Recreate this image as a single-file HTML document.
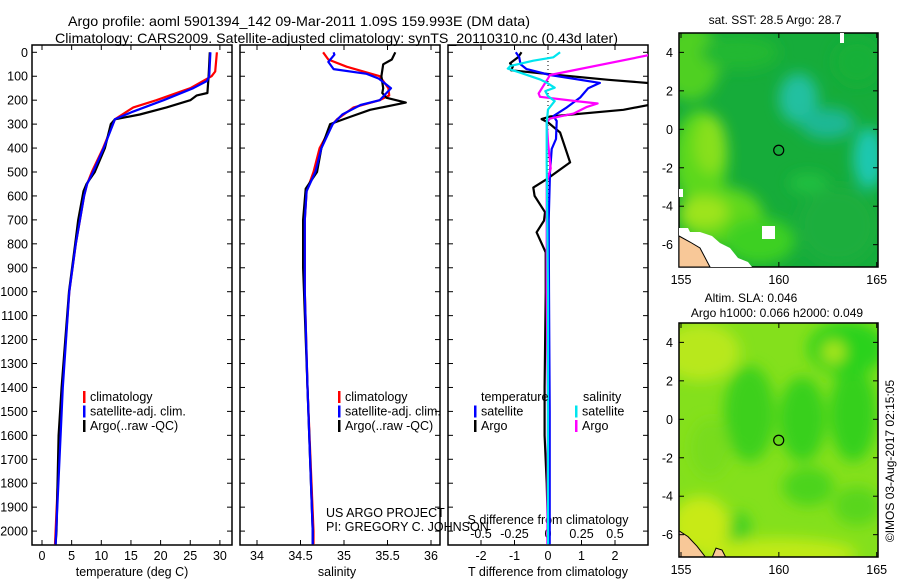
<!DOCTYPE html>
<html><head><meta charset="utf-8"><style>
html,body{margin:0;padding:0;background:#fff;}
svg{display:block;font-family:"Liberation Sans",sans-serif;}
</style></head><body>
<svg id="chart" width="900" height="580" viewBox="0 0 900 580" xmlns="http://www.w3.org/2000/svg">
<defs>
<clipPath id="c1"><rect x="32" y="45" width="200" height="500"/></clipPath>
<clipPath id="c2"><rect x="240" y="45" width="200" height="500"/></clipPath>
<clipPath id="c3"><rect x="448" y="45" width="200" height="500"/></clipPath>
<clipPath id="cm1"><rect x="679" y="33" width="199" height="234"/></clipPath>
<clipPath id="cm2"><rect x="679" y="323" width="199" height="234"/></clipPath>
<filter id="bl" x="-50%" y="-50%" width="200%" height="200%"><feGaussianBlur stdDeviation="7"/></filter>
</defs>
<text x="68" y="26" font-size="14" textLength="462" lengthAdjust="spacingAndGlyphs">Argo profile: aoml 5901394_142 09-Mar-2011 1.09S 159.993E (DM data)</text>
<text x="55" y="43" font-size="14" textLength="563" lengthAdjust="spacingAndGlyphs">Climatology: CARS2009. Satellite-adjusted climatology: synTS_20110310.nc (0.43d later)</text>
<g id="plots"></g>
</svg>
<script>
// ---- data ----
const depthTickLabels=[0,100,200,300,400,500,600,700,800,900,1000,1100,1200,1300,1400,1500,1600,1700,1800,1900,2000];
const tempTicks=[0,5,10,15,20,25,30];
const salTicks=[34,34.5,35,35.5,36];
const salTickLabels=["34","34.5","35","35.5","36"];
const tdiffTicks=[-2,-1,0,1,2];
const sdiffTicks=[-0.5,-0.25,0,0.25,0.5];

const tClimDepth=[0,80,100,150,200,230,280,400,500,550,600,800,1000,1400,2000,2055];
const tClim=[29.5,29.2,28.6,25,19.3,15.4,12.3,10.3,8.4,7.6,7.1,5.7,4.6,3.4,2.3,2.2];
const tSatDepth=[0,100,120,150,200,250,280,400,500,550,600,800,1000,1400,2000,2055];
const tSat=[28.4,28.2,27.8,25.5,20.5,15.1,12.3,10.4,8.6,7.6,7.1,5.7,4.6,3.5,2.4,2.3];
const tArgoDepth=[0,100,170,180,200,230,260,280,300,400,500,550,580,700,800,1000,1400,1600,2000,2055];
const tArgo=[28.3,28.1,27.9,26.1,25,21,16.5,12.3,11.6,10.6,8.9,7.5,7.0,6.1,5.6,4.55,3.3,2.8,2.45,2.3];

const sClimDepth=[0,30,60,100,150,180,200,230,280,300,400,500,580,700,1000,1400,2000,2055];
const sClim=[34.76,34.82,35.03,35.41,35.51,35.52,35.41,35.11,34.92,34.87,34.72,34.65,34.57,34.55,34.55,34.58,34.65,34.65];
const sSatDepth=[0,10,40,70,90,110,150,200,220,260,300,400,500,580,700,1000,1400,2000,2055];
const sSat=[34.88,34.89,34.82,34.88,35.26,35.40,35.54,35.41,35.19,34.98,34.87,34.74,34.67,34.57,34.55,34.55,34.58,34.64,34.64];
const sArgoDepth=[0,30,50,100,150,170,190,210,240,270,300,400,500,570,700,900,1000,1400,2000,2055];
const sArgo=[35.59,35.55,35.45,35.43,35.45,35.44,35.49,35.71,35.30,35.07,34.84,34.74,34.69,34.56,34.53,34.53,34.54,34.58,34.64,34.64];

const dTSatDepth=[0,20,50,70,95,128,150,189,230,266,287,362,404,501,700,1000,1500,2055];
const dTSat=[-0.96,-0.86,-0.82,-0.64,0.06,1.55,1.2,0.96,0.56,0.16,0.26,0.24,0.11,0.06,0.02,0.03,0.05,0.05];
const dTArgoDepth=[0,20,46,60,75,95,115,135,200,220,240,268,279,293,335,460,530,565,600,668,703,752,836,1003,1400,1600,1800,2000,2055];
const dTArgo=[-0.79,-0.89,-1.13,-1.05,-1.1,0.3,1.8,3.6,4,3.0,2.25,0.06,-0.19,0.0,0.36,0.66,-0.04,-0.44,-0.40,-0.09,-0.12,-0.34,-0.07,-0.07,-0.1,-0.1,-0.04,0,0];
const dSSatDepth=[0,21,35,57,68,85,113,127,148,162,183,204,239,295,462,1000,1500,2055];
const dSSat=[0.09,0.04,-0.11,-0.28,-0.30,-0.21,-0.06,-0.01,0.05,-0.02,0.0,0.05,0.0,-0.01,-0.01,0.0,0.0,0.0];
const dSArgoDepth=[0,12,95,109,172,186,204,214,228,256,277,291,374,485,541,1000,1500,2055];
const dSArgo=[0.85,0.75,0.015,0.0,-0.07,-0.06,0.21,0.37,0.29,0.19,0.015,-0.01,0.0,0.02,-0.01,-0.01,0.0,-0.005];

// ---- scales ----
const yD=d=>52.3+d*0.2394;
const xT=t=>42+t*5.93;
const xS=s=>257+(s-34)*87;
const xDT=v=>548+v*33.5;
const xDS=v=>548+v*134;

const NS="http://www.w3.org/2000/svg";
const root=document.getElementById('plots');
function mk(tag,attrs,parent){const e=document.createElementNS(NS,tag);for(const k in attrs)e.setAttribute(k,attrs[k]);(parent||root).appendChild(e);return e;}
function txt(x,y,s,size,anchor,name,parent){const e=mk('text',{x:x,y:y,'font-size':size,'text-anchor':anchor||'start'},parent);e.textContent=s;return e;}
function line(depths,vals,xf,color,clip,name,w){
  let p='';for(let i=0;i<depths.length;i++){p+=(i?'L':'M')+xf(vals[i]).toFixed(1)+' '+yD(depths[i]).toFixed(1);}
  const e=mk('path',{d:p,fill:'none',stroke:color,'stroke-width':w||2.2,'clip-path':'url(#'+clip+')','stroke-linejoin':'round'});
  
  
  return e;
}

// panel frames and ticks
const panels=[{x:32,clip:'c1',name:'temperature-panel'},{x:240,clip:'c2',name:'salinity-panel'},{x:448,clip:'c3',name:'difference-panel'}];
panels.forEach(p=>{
  const g=mk('g',{});
  
  
  mk('rect',{x:p.x,y:45,width:200,height:500,fill:'none',stroke:'#000','stroke-width':1.5},g);
  depthTickLabels.forEach(d=>{
    mk('line',{x1:p.x,x2:p.x+5,y1:yD(d),y2:yD(d),stroke:'#000'},g);
    mk('line',{x1:p.x+195,x2:p.x+200,y1:yD(d),y2:yD(d),stroke:'#000'},g);
  });
});
depthTickLabels.forEach(d=>{txt(28,yD(d)+4.5,String(d),12.5,'end','depth-tick-label');});

// temperature axis
tempTicks.forEach(t=>{mk('line',{x1:xT(t),x2:xT(t),y1:45,y2:50,stroke:'#000'});mk('line',{x1:xT(t),x2:xT(t),y1:540,y2:545,stroke:'#000'});txt(xT(t),560,String(t),12.5,'middle','temperature-tick-label');});
txt(132,576,'temperature (deg C)',12.5,'middle','x-axis-title-temperature');
salTicks.forEach((s,i)=>{mk('line',{x1:xS(s),x2:xS(s),y1:45,y2:50,stroke:'#000'});mk('line',{x1:xS(s),x2:xS(s),y1:540,y2:545,stroke:'#000'});txt(xS(s),560,salTickLabels[i],12.5,'middle','salinity-tick-label');});
txt(337,576,'salinity',12.5,'middle','x-axis-title-salinity');
tdiffTicks.forEach(t=>{mk('line',{x1:xDT(t),x2:xDT(t),y1:45,y2:50,stroke:'#000'});mk('line',{x1:xDT(t),x2:xDT(t),y1:540,y2:545,stroke:'#000'});txt(xDT(t),560,String(t),12.5,'middle','tdiff-tick-label');});
txt(548,576,'T difference from climatology',12.5,'middle','x-axis-title-tdiff');
sdiffTicks.forEach(s=>{txt(xDS(s),538,String(s),12.5,'middle','sdiff-tick-label');});
txt(548,524,'S difference from climatology',12.5,'middle','sdiff-axis-title');
// zero dotted line
mk('line',{x1:548,x2:548,y1:45,y2:545,stroke:'#000','stroke-dasharray':'1,3'});

// series
line(tClimDepth,tClim,xT,'#ff0000','c1','temp-climatology-line');
line(tArgoDepth,tArgo,xT,'#000000','c1','temp-argo-line');
line(tSatDepth,tSat,xT,'#0000ff','c1','temp-satellite-line');
line(sClimDepth,sClim,xS,'#ff0000','c2','sal-climatology-line');
line(sArgoDepth,sArgo,xS,'#000000','c2','sal-argo-line');
line(sSatDepth,sSat,xS,'#0000ff','c2','sal-satellite-line');
line(dTArgoDepth,dTArgo,xDT,'#000000','c3','tdiff-argo-line');
line(dTSatDepth,dTSat,xDT,'#0000ff','c3','tdiff-satellite-line');
line(dSArgoDepth,dSArgo,xDS,'#ff00ff','c3','sdiff-argo-line');
line(dSSatDepth,dSSat,xDS,'#00e5ee','c3','sdiff-satellite-line');

// legends
function legend(x,y,color,label,name){
  const g=mk('g',{});
  
  
  mk('rect',{x:x,y:y-10,width:2.5,height:12,fill:color},g);
  txt(x+7,y,label,12.5,'start','legend-label',g);
}
[['#ff0000','climatology'],['#0000ff','satellite-adj. clim.'],['#000000','Argo(..raw -QC)']].forEach((l,i)=>{
  legend(83,401+i*14.5,l[0],l[1],'temp-legend-entry');
  legend(338,401+i*14.5,l[0],l[1],'sal-legend-entry');
});
txt(481,401,'temperature',12.5,'start','legend-heading-temperature');
txt(583,401,'salinity',12.5,'start','legend-heading-salinity');
legend(474,415.5,'#0000ff','satellite','tdiff-legend-satellite');
legend(474,430,'#000000','Argo','tdiff-legend-argo');
legend(575,415.5,'#00e5ee','satellite','sdiff-legend-satellite');
legend(575,430,'#ff00ff','Argo','sdiff-legend-argo');
txt(326,517,'US ARGO PROJECT',12.5,'start','project-credit');
txt(326,531,'PI: GREGORY C. JOHNSON',12.5,'start','pi-credit');

// ---- maps ----
const lonX=l=>681+(l-155)*19.57;
function drawMap(y0,clip,base,blobs,name,title1,title2){
  const g=mk('g',{'clip-path':'url(#'+clip+')'});
  
  
  const latY=a=>y0+129.3-19.23*a;
  mk('rect',{x:679,y:y0+33,width:199,height:234,fill:base},g);
  const fb=mk('g',{filter:'url(#bl)'},g);
  blobs.forEach(b=>{mk('ellipse',{cx:lonX(b[0]),cy:latY(b[1]),rx:b[2]*19.57,ry:b[3]*19.23,fill:b[4]},fb);});
  // land
  mk('path',{d:`M679 ${latY(-5.8)} L688 ${latY(-6.1)} L697 ${latY(-6.6)} L706 ${latY(-7.2)} L679 ${latY(-7.2)} Z`,fill:'#f8c898',stroke:'#000','stroke-width':1},g);
  mk('path',{d:`M712 ${latY(-7.2)} L716 ${latY(-6.7)} L722 ${latY(-6.8)} L726 ${latY(-7.2)} Z`,fill:'#f8c898',stroke:'#000','stroke-width':1},g);
  const fr=mk('rect',{x:679,y:y0+33,width:199,height:234,fill:'none',stroke:'#000','stroke-width':1.5});
  
  
  mk('circle',{cx:lonX(159.993),cy:latY(-1.09),r:5,fill:'none',stroke:'#000','stroke-width':1.2});
  [155,160,165].forEach(l=>{mk('line',{x1:lonX(l),x2:lonX(l),y1:y0+33,y2:y0+38,stroke:'#000'});mk('line',{x1:lonX(l),x2:lonX(l),y1:y0+262,y2:y0+267,stroke:'#000'});txt(lonX(l),y0+284,String(l),12.5,'middle','lon-tick-label');});
  [4,2,0,-2,-4,-6].forEach(a=>{mk('line',{x1:679,x2:684,y1:latY(a),y2:latY(a),stroke:'#000'});mk('line',{x1:873,x2:878,y1:latY(a),y2:latY(a),stroke:'#000'});txt(673,latY(a)+4.5,String(a),12.5,'end','lat-tick-label');});
}
drawMap(0,'cm1','#16ac3a',[
 [155.5,3.5,1.5,2,'#50d020'],[156,-1.5,1.4,2.5,'#5cd81e'],[157,-4.5,2.2,1.5,'#60d81c'],[156.2,-4.3,1.2,0.8,'#9ee41a'],
 [156.5,-0.8,0.8,1.5,'#88e01c'],[159,-5.8,1.8,1.2,'#3cd020'],[158,4,2,0.9,'#20b832'],[161,1.6,1,1.3,'#20c0a0'],
 [162.5,0.3,1.4,0.8,'#1ab894'],[164.6,-1.5,0.8,1.6,'#1cc8b0'],[163,-5,2,2,'#1aae3c'],[164,3.5,1.2,1.2,'#18b038'],
 [161.5,-2.8,1,0.5,'#20c040']
],'sst-map','','');
// white gaps
mk('rect',{x:679,y:189,width:4,height:8,fill:'#fff'});
mk('rect',{x:840,y:33,width:4,height:10,fill:'#fff'});
mk('path',{d:'M679 228 L688 228 L690 232 L700 232 L712 236 L720 243 L730 248 L738 258 L748 262 L752 267 L679 267 Z',fill:'#fff'});
mk('path',{d:'M679 236 L690 242 L700 248 L710 267 L679 267 Z',fill:'#f8c898',stroke:'#000'});
mk('rect',{x:762,y:226,width:13,height:13,fill:'#fff'});
drawMap(290,'cm2','#84e01c',[
 [156,3.5,2,1.5,'#b8e81a'],[158.5,0.3,1.3,2.5,'#3ed01c'],[161.2,0,1.2,2.2,'#38d01a'],[163.8,0.3,1.2,2.5,'#36d01a'],
 [163.5,3.7,2,1.4,'#2cd21a'],[162.8,3.5,0.6,0.6,'#a8e61a'],[161.5,-3.5,1.3,1,'#4cd41a'],[164,-4.5,1.2,1,'#58d61a'],
 [158,-5.8,0.6,1,'#44d020'],[160,-7,4,0.8,'#c0ea18'],[156,-5.5,1.5,1.5,'#c8ea18'],[156.5,-1.5,1,1.5,'#78dc1c']
],'sla-map','','');
txt(775,24,'sat. SST: 28.5 Argo: 28.7',12,'middle','sst-map-title');
txt(751,302,'Altim. SLA: 0.046',12,'middle','sla-map-title-1');
txt(777,317,'Argo h1000: 0.066 h2000: 0.049',12,'middle','sla-map-title-2');
const cr=txt(0,0,'\u00a9IMOS 03-Aug-2017 02:15:05',12,'middle','imos-credit');
cr.setAttribute('transform','translate(894,461) rotate(-90)');
</script>
</body></html>
